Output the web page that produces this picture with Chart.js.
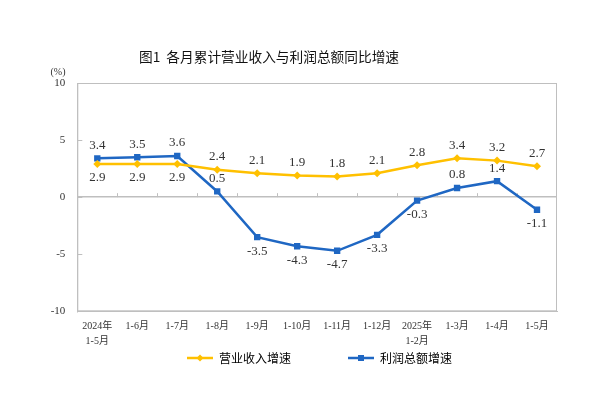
<!DOCTYPE html>
<html>
<head>
<meta charset="utf-8">
<script src="https://cdn.jsdelivr.net/npm/chart.js@4"></script>
<style>
  html, body { margin: 0; padding: 0; background: #fff; }
  #wrap { width: 600px; height: 395px; }
</style>
</head>
<body>
<div id="wrap"><canvas id="growthChart" width="600" height="395"></canvas></div>
<script>
// chart data
var periods = [['2024年', '1-5月'], '1-6月', '1-7月', '1-8月', '1-9月', '1-10月', '1-11月', '1-12月', ['2025年', '1-2月'], '1-3月', '1-4月', '1-5月'];
var revenueGrowth = [2.9, 2.9, 2.9, 2.4, 2.1, 1.9, 1.8, 2.1, 2.8, 3.4, 3.2, 2.7];
var profitGrowth = [3.4, 3.5, 3.6, 0.5, -3.5, -4.3, -4.7, -3.3, -0.3, 0.8, 1.4, -1.1];
var yTicks = [-10, -5, 0, 5, 10];
var seriesNames = ['营业收入增速', '利润总额增速'];
var chartTitle = '图1  各月累计营业收入与利润总额同比增速';
var unitLabel = '(%)';

// which side of the point each value label goes
var revenueLabelSide = ['below', 'below', 'below', 'above', 'above', 'above', 'above', 'above', 'above', 'above', 'above', 'above'];
var profitLabelSide = ['above', 'above', 'above', 'above', 'below', 'below', 'below', 'below', 'below', 'above', 'above', 'below'];

var YELLOW = '#FFC000';
var BLUE = '#1F67C3';
var FRAME = '#BFBFBF';
var SERIF = '"Liberation Serif", "Times New Roman", "Noto Sans CJK SC", serif';

// legend swatch: short line with the marker in the middle (left part kept blank as spacing)
function legendSwatch(color, shape) {
  var c = document.createElement('canvas');
  c.width = 82; c.height = 10;
  var g = c.getContext('2d');
  g.strokeStyle = color;
  g.lineWidth = 2.5;
  g.beginPath(); g.moveTo(56, 5); g.lineTo(82, 5); g.stroke();
  g.fillStyle = color;
  if (shape === 'diamond') {
    g.beginPath(); g.moveTo(69, 1.5); g.lineTo(72.5, 5); g.lineTo(69, 8.5); g.lineTo(65.5, 5); g.closePath(); g.fill();
  } else {
    g.fillRect(66, 2, 6, 6);
  }
  return c;
}
var swatches = [legendSwatch(YELLOW, 'diamond'), legendSwatch(BLUE, 'square')];

var decorPlugin = {
  id: 'decor',
  beforeDatasetsDraw: function(chart) {
    var ctx = chart.ctx, a = chart.chartArea;
    var x = chart.scales.x, y = chart.scales.y;
    ctx.save();
    ctx.strokeStyle = FRAME;
    ctx.lineWidth = 1;
    ctx.strokeRect(a.left + 0.5, a.top + 0.5, a.right - a.left - 1, a.bottom - a.top - 1);
    ctx.beginPath();
    // small ticks on the zero line between categories
    var zy = y.getPixelForValue(0);
    for (var i = 1; i < periods.length; i++) {
      var bx = Math.round((x.getPixelForValue(i - 1) + x.getPixelForValue(i)) / 2) + 0.5;
      ctx.moveTo(bx, zy - 4);
      ctx.lineTo(bx, zy);
    }
    // value-axis ticks point into the plot
    yTicks.forEach(function(v) {
      var ty = Math.round(y.getPixelForValue(v)) + 0.5;
      ctx.moveTo(a.left, ty);
      ctx.lineTo(a.left + 5, ty);
    });
    ctx.stroke();
    ctx.restore();
  },
  afterDatasetsDraw: function(chart) {
    var ctx = chart.ctx;
    var sides = [revenueLabelSide, profitLabelSide];
    ctx.save();
    ctx.font = '13px ' + SERIF;
    ctx.fillStyle = '#333';
    ctx.textAlign = 'center';
    ctx.textBaseline = 'middle';
    chart.data.datasets.forEach(function(ds, d) {
      var meta = chart.getDatasetMeta(d);
      meta.data.forEach(function(pt, i) {
        var off = sides[d][i] === 'above' ? -13 : 14;
        ctx.fillText(ds.data[i].toFixed(1), pt.x, pt.y + off);
      });
    });
    ctx.restore();
  },
  afterDraw: function(chart) {
    var ctx = chart.ctx;
    ctx.save();
    ctx.fillStyle = '#111';
    ctx.textAlign = 'center';
    ctx.textBaseline = 'middle';
    ctx.font = '13.7px "Noto Sans CJK SC", sans-serif';
    ctx.fillText(chartTitle, 269, 57);
    ctx.font = '10px ' + SERIF;
    ctx.fillStyle = '#333';
    ctx.fillText(unitLabel, 58, 72);
    ctx.restore();
  }
};

var ctx = document.getElementById('growthChart').getContext('2d');
var growthChart = new Chart(ctx, {
  type: 'line',
  data: {
    labels: periods,
    datasets: [{
      label: seriesNames[0],
      data: revenueGrowth,
      borderColor: YELLOW,
      backgroundColor: YELLOW,
      borderWidth: 2.5,
      pointStyle: 'rectRot',
      pointRadius: 4,
      pointBorderWidth: 0,
      tension: 0
    }, {
      label: seriesNames[1],
      data: profitGrowth,
      borderColor: BLUE,
      backgroundColor: BLUE,
      borderWidth: 2.5,
      pointStyle: 'rect',
      pointRadius: 4.5,
      pointBorderWidth: 0,
      tension: 0
    }]
  },
  options: {
    responsive: false,
    animation: false,
    layout: { padding: { left: 26, right: 43, top: 83, bottom: 21 } },
    plugins: {
      title: { display: false },
      tooltip: { enabled: false },
      legend: {
        position: 'bottom',
        labels: {
          usePointStyle: true,
          pointStyleWidth: 82,
          boxHeight: 12,
          padding: 1,
          color: '#333',
          font: { family: '"Noto Sans CJK SC", sans-serif', size: 12 },
          generateLabels: function(chart) {
            return chart.data.datasets.map(function(ds, i) {
              return { text: ds.label, pointStyle: swatches[i], fillStyle: ds.borderColor,
                       strokeStyle: ds.borderColor, lineWidth: 0, hidden: false, datasetIndex: i };
            });
          }
        }
      }
    },
    scales: {
      x: {
        offset: true,
        grid: { display: false, drawTicks: false, offset: true },
        border: { display: true, color: FRAME },
        ticks: { padding: 8, autoSkip: false, maxRotation: 0, color: '#333',
                 font: { family: SERIF, size: 10, lineHeight: 1.45 } },
        afterFit: function(s) { s.height = 39.7; }
      },
      y: {
        min: -10,
        max: 10,
        afterBuildTicks: function(s) { s.ticks = yTicks.map(function(v) { return { value: v }; }); },
        ticks: { padding: 12, color: '#333', font: { family: SERIF, size: 11 } },
        grid: {
          color: function(c) { return c.tick && c.tick.value === 0 ? FRAME : 'rgba(0,0,0,0)'; },
          lineWidth: 1.5,
          drawTicks: false
        },
        border: { color: FRAME },
        afterFit: function(s) { s.width = 51.3; }
      }
    }
  },
  plugins: [decorPlugin]
});
</script>
</body>
</html>
